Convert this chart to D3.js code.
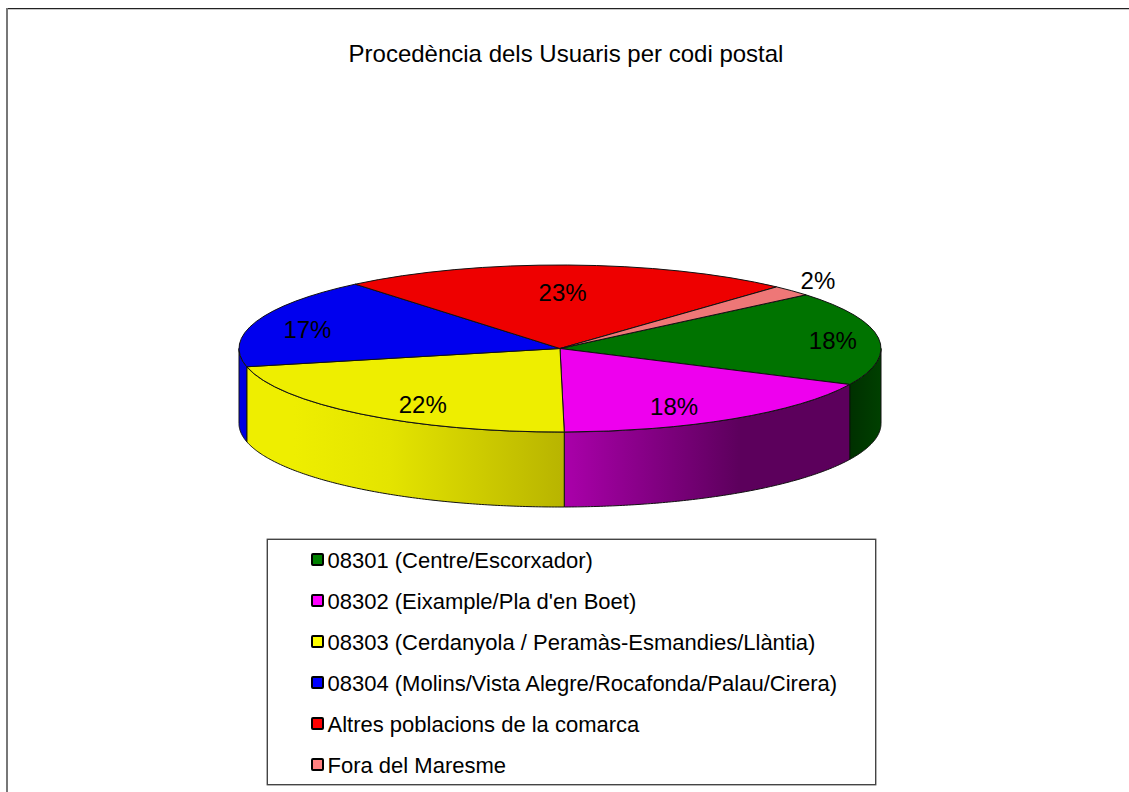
<!DOCTYPE html>
<html>
<head>
<meta charset="utf-8">
<script src="https://cdn.jsdelivr.net/npm/d3@7"></script>
<style>
    html, body { margin: 0; padding: 0; background: #fff; overflow: hidden; }
    text { font-family: "Liberation Sans", Arial, sans-serif; fill: #000; }
</style>
</head>
<body>
<svg id="chart" width="1129" height="792"></svg>
<script>
let titleText = "Procedència dels Usuaris per codi postal";
let categories = [
    "08301 (Centre/Escorxador)",
    "08302 (Eixample/Pla d'en Boet)",
    "08303 (Cerdanyola / Peramàs-Esmandies/Llàntia)",
    "08304 (Molins/Vista Alegre/Rocafonda/Palau/Cirera)",
    "Altres poblacions de la comarca",
    "Fora del Maresme",
];
let shares = [18.2, 17.7, 21.7, 17.5, 22.8, 2.1];
let percentLabels = ["18%", "18%", "22%", "17%", "23%", "2%"];
let topColors = ["#007300", "#ee00ee", "#eeee00", "#0000ee", "#ee0000", "#ee7777"];
let legendColors = ["#008000", "#ff00ff", "#ffff00", "#0000ff", "#ff0000", "#ff8080"];
let wallStops = [
    ["#004000", "#003000"],
    ["#aa00aa", "#5c005c"],
    ["#eeee00", "#b8b400"],
    ["#0000e0", "#0000e0"],
    ["#ee0000", "#ee0000"],
    ["#ee7777", "#ee7777"],
];
// where each label sits: fraction of the radius, and degrees off the slice's mid angle
let labelRadius = [0.855, 0.78, 0.80, 0.818, 0.665, 1.148];
let labelShift = [1, 5.5, -6, -3, -0.7, -1.8];

let svg = d3.select("#chart");
let cx = 560, cy = 348.5, rx = 321, ry = 83.5, depth = 75;

// angles are clockwise from the right hand side, first slice starts at 320 degrees
let pie = d3.pie().sort(null).value(d => d)
    .startAngle(320 * Math.PI / 180)
    .endAngle((320 + 360) * Math.PI / 180);
let slices = pie(shares);

let ellipseX = angle => cx + rx * Math.cos(angle);
let ellipseY = angle => cy + ry * Math.sin(angle);

// outer frame, only top and left show in the picture
svg.append("line").attr("x1", 6).attr("x2", 1129).attr("y1", 8.6).attr("y2", 8.6)
    .attr("stroke", "#222").attr("stroke-width", 1.3);
svg.append("line").attr("x1", 7).attr("x2", 7).attr("y1", 8).attr("y2", 792)
    .attr("stroke", "#777").attr("stroke-width", 2);

svg.append("text").attr("x", 566).attr("y", 62).attr("text-anchor", "middle")
    .attr("font-size", 24).text(titleText);

let defs = svg.append("defs");

// side walls, only the part on the front half of the ellipse is visible
let wallLine = d3.line().x(d => d[0]).y(d => d[1]);
slices.forEach((slice, i) => {
    for (let turn of [0, 2 * Math.PI]) {
        let from = Math.max(slice.startAngle, turn);
        let to = Math.min(slice.endAngle, turn + Math.PI);
        if (to <= from) continue;
        let angles = d3.range(from, to, 0.01).concat([to]);
        let upper = angles.map(a => [ellipseX(a), ellipseY(a)]);
        let lower = angles.slice().reverse().map(a => [ellipseX(a), ellipseY(a) + depth]);
        let gradientId = `wall-${i}`;
        let gradient = defs.append("linearGradient").attr("id", gradientId)
            .attr("gradientUnits", "userSpaceOnUse")
            .attr("x1", i == 1 ? ellipseX(to) : ellipseX(from) )
            .attr("x2", i == 1 ? ellipseX(from) : ellipseX(to))
            .attr("y1", 0).attr("y2", 0);
        gradient.append("stop").attr("offset", 0).attr("stop-color", wallStops[i][i == 2 ? 1 : 0]);
        if (i == 2) {
            gradient.append("stop").attr("offset", 0.55).attr("stop-color", "#e4e400");
            gradient.append("stop").attr("offset", 0.85).attr("stop-color", "#eeee00");
        }
        if (i == 1) {
            gradient.append("stop").attr("offset", 0.62).attr("stop-color", "#5c005c");
        }
        gradient.append("stop").attr("offset", 1).attr("stop-color", wallStops[i][i == 2 ? 0 : 1]);
        svg.append("path")
            .attr("d", wallLine(upper.concat(lower)) + "Z")
            .attr("fill", `url(#${gradientId})`)
            .attr("stroke", "#111").attr("stroke-width", 1);
    }
});

// top of the pie: a normal arc, squashed to an ellipse
let arc = d3.arc().innerRadius(0).outerRadius(rx);
svg.append("g")
    .attr("transform", `translate(${cx},${cy}) scale(1,${ry / rx})`)
    .selectAll("path")
    .data(slices)
    .join("path")
    // d3.arc measures from 12 o'clock, our angles from 3 o'clock
    .attr("d", d => arc({ startAngle: d.startAngle + Math.PI / 2, endAngle: d.endAngle + Math.PI / 2 }))
    .attr("fill", (d, i) => topColors[i])
    .attr("stroke", "#111").attr("stroke-width", 1)
    .attr("vector-effect", "non-scaling-stroke");

let labelAngle = (d, i) => (d.startAngle + d.endAngle) / 2 + labelShift[i] * Math.PI / 180;
svg.append("g").selectAll("text")
    .data(slices)
    .join("text")
    .attr("text-anchor", "middle")
    .attr("font-size", 24)
    .attr("x", (d, i) => cx + rx * labelRadius[i] * Math.cos(labelAngle(d, i)))
    .attr("y", (d, i) => cy + ry * labelRadius[i] * Math.sin(labelAngle(d, i)) + 8.5)
    .text((d, i) => percentLabels[i]);

// legend
svg.append("rect").attr("x", 267.3).attr("y", 539.3).attr("width", 608.4).attr("height", 245.4)
    .attr("fill", "#fff").attr("stroke", "#444").attr("stroke-width", 1.4);

let legendY = d3.scalePoint().domain(categories).range([560, 765]);
let legendRows = svg.append("g").selectAll("g")
    .data(categories)
    .join("g")
    .attr("transform", d => `translate(0,${legendY(d)})`);
legendRows.append("rect")
    .attr("x", 312).attr("y", -6).attr("width", 11).attr("height", 11).attr("rx", 1)
    .attr("fill", (d, i) => legendColors[i])
    .attr("stroke", "#000").attr("stroke-width", 2);
legendRows.append("text")
    .attr("x", 327.5).attr("y", 7.5)
    .attr("font-size", 22)
    .text(d => d);
</script>
</body>
</html>
